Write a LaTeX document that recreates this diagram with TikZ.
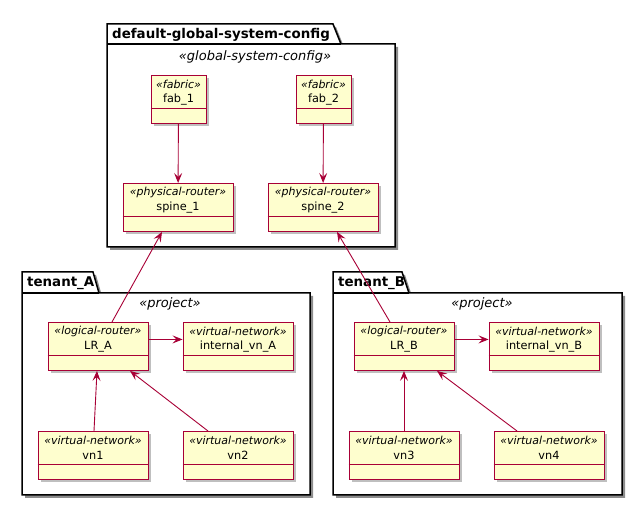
\documentclass[tikz,border=0pt]{standalone}
\usepackage{fontspec}
\setmainfont{DejaVu Sans}
\usetikzlibrary{arrows.meta,shadows}
\definecolor{umlred}{HTML}{A80036}
\definecolor{umlfill}{HTML}{FEFECE}
\newcommand{\umlclass}[6]{%
  \node [cls, minimum width=#4pt, anchor=north] (#1) at (#2,#3) {};
  \draw [clsline] ([yshift=-33pt]#1.north west) -- ([yshift=-33pt]#1.north east);
  \node [stereo] at ([yshift=-9pt]#1.north) {«#5»};
  \node [cname] at ([yshift=-24.5pt]#1.north) {#6};
}
\newcommand{\umlpackage}[8]{%
  \draw [pkg] (#1,#2) -- (#3,#2) -- (#4,#5) -- (#6,#5) -- (#6,#7) -- (#1,#7) -- cycle;
  \draw [pkgline] (#1,#5) -- (#4,#5);
  \node [ptitle] at ({#1+5},{(#2+#5)/2+1}) {#8};
}

\begin{document}
\begin{tikzpicture}[
  x=1pt, y=-1pt,
  cls/.style={draw=umlred, fill=umlfill, line width=0.9pt, minimum height=48pt,
    inner sep=0pt, drop shadow={shadow xshift=3pt, shadow yshift=-3pt, fill=black, opacity=0.25}},
  clsline/.style={umlred, line width=0.9pt},
  stereo/.style={font=\itshape\fontsize{11}{12}\selectfont, inner sep=0pt},
  cname/.style={font=\fontsize{11.3}{13}\selectfont, inner sep=0pt},
  pkg/.style={draw=black, fill=white, line width=1.5pt, line join=miter,
    drop shadow={shadow xshift=3pt, shadow yshift=-3pt, fill=black, opacity=0.45}},
  pkgline/.style={black, line width=1.5pt},
  ptitle/.style={font=\bfseries\fontsize{13.4}{15}\selectfont, anchor=west, inner sep=0pt},
  pstereo/.style={font=\itshape\fontsize{13}{15}\selectfont, inner sep=0pt},
  assoc/.style={umlred, line width=0.9pt, -{Stealth[length=10pt, width=8pt, inset=4pt]}}
]
\useasboundingbox (0,0) rectangle (641,505);
\umlpackage{107}{24}{333}{341}{44}{395}{247}{default-global-system-config}
\umlpackage{22}{272}{93}{99}{293}{310}{495}{tenant\_A}
\umlpackage{333}{272}{402}{409}{293}{622}{495}{tenant\_B}
\node [pstereo] (gsc) at (255,57) {«global-system-config»};
\node [pstereo] (proja) at (170,304) {«project»};
\node [pstereo] (projb) at (482,304) {«project»};
\umlclass{fab1}{178.5}{75}{55}{fabric}{fab\_1}
\umlclass{fab2}{323.5}{75}{55}{fabric}{fab\_2}
\umlclass{spine1}{178}{183}{110}{physical-router}{spine\_1}
\umlclass{spine2}{323}{183}{110}{physical-router}{spine\_2}
\umlclass{lra}{98}{322}{100}{logical-router}{LR\_A}
\umlclass{ivna}{238}{322}{110}{virtual-network}{internal\_vn\_A}
\umlclass{vn1}{93}{431}{110}{virtual-network}{vn1}
\umlclass{vn2}{238}{431}{110}{virtual-network}{vn2}
\umlclass{lrb}{404}{322}{100}{logical-router}{LR\_B}
\umlclass{ivnb}{544}{322}{110}{virtual-network}{internal\_vn\_B}
\umlclass{vn3}{404}{431}{110}{virtual-network}{vn3}
\umlclass{vn4}{549}{431}{110}{virtual-network}{vn4}
\draw [assoc] (fab1) -- (spine1);
\draw [assoc] (fab2) -- (spine2);
\draw [assoc] ([xshift=14pt]lra.north) -- ([xshift=-16pt]spine1.south);
\draw [assoc] ([xshift=-14pt]lrb.north) -- ([xshift=14pt]spine2.south);
\draw [assoc] ([yshift=7pt]lra.east) -- ([yshift=7pt]ivna.west);
\draw [assoc] ([yshift=7pt]lrb.east) -- ([yshift=7pt]ivnb.west);
\draw [assoc] ([xshift=1pt]vn1.north) -- ([xshift=-1pt]lra.south);
\draw [assoc] ([xshift=-30pt]vn2.north) -- ([xshift=32pt]lra.south);
\draw [assoc] (vn3.north) -- (lrb.south);
\draw [assoc] ([xshift=-32pt]vn4.north) -- ([xshift=33pt]lrb.south);
\end{tikzpicture}
\end{document}
